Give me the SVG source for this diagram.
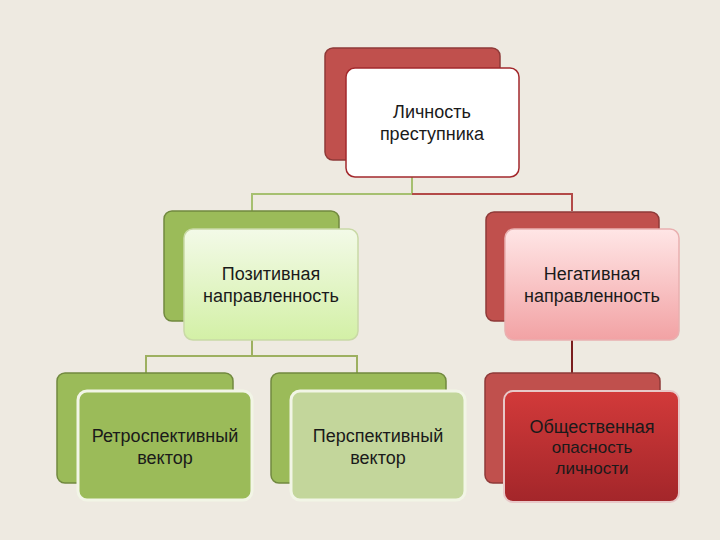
<svg xmlns="http://www.w3.org/2000/svg" width="720" height="540" viewBox="0 0 720 540">
<defs>
<linearGradient id="gPos" x1="0" y1="0" x2="0" y2="1"><stop offset="0" stop-color="#F3FAE8"/><stop offset="1" stop-color="#D3F0A6"/></linearGradient>
<linearGradient id="gNeg" x1="0" y1="0" x2="0" y2="1"><stop offset="0" stop-color="#FFE6E6"/><stop offset="1" stop-color="#F2A2A4"/></linearGradient>
<linearGradient id="gDanger" x1="0" y1="0" x2="0" y2="1"><stop offset="0" stop-color="#D23A3A"/><stop offset="1" stop-color="#A3262A"/></linearGradient>
<linearGradient id="gGreenBack" x1="0" y1="0" x2="0" y2="1"><stop offset="0" stop-color="#9EBB5A"/><stop offset="1" stop-color="#8AA84E"/></linearGradient>
<style>
.bg{fill:#EEEAE1}
.backR{fill:#C0504D;stroke:#8E3A38;stroke-width:1.5}
.backG{fill:#9BBB59;stroke:#71893F;stroke-width:1.5}
.t{font-family:"Liberation Sans","DejaVu Sans",sans-serif;font-size:18px;fill:#1A1A1A;text-anchor:middle}
.c{fill:none;stroke-width:2}
</style>
</defs>
<rect class="bg" x="0" y="0" width="720" height="540"/>

<g id="connectors">
<path class="c" stroke="#A6C070" d="M412,177 V194 H252 V211"/>
<path class="c" stroke="#B34A48" d="M412,194 H572 V211"/>
<path class="c" stroke="#9DB060" d="M252,340 V356 M146,373 V356 H357 V373"/>
<path class="c" stroke="#7A1E1E" d="M572,340 V373"/>
</g>

<g id="n-lichnost">
<rect class="backR" x="325" y="48" width="175" height="112" rx="8"/>
<rect x="346" y="68" width="173" height="109" rx="9" fill="#FFFFFF" stroke="#A3282C" stroke-width="1.5"/>
<text class="t" x="432" y="118">Личность</text>
<text class="t" x="432" y="140">преступника</text>
</g>

<g id="n-pos">
<rect class="backG" x="164" y="211" width="175" height="110" rx="8"/>
<rect x="184" y="229" width="174" height="111" rx="9" fill="url(#gPos)" stroke="#C9D9A6" stroke-width="1.5"/>
<text class="t" x="271" y="280">Позитивная</text>
<text class="t" x="271" y="302">направленность</text>
</g>

<g id="n-neg">
<rect class="backR" x="486" y="212" width="173" height="109" rx="8"/>
<rect x="505" y="229" width="174" height="111" rx="9" fill="url(#gNeg)" stroke="#E9B0B0" stroke-width="1.5"/>
<text class="t" x="592" y="280">Негативная</text>
<text class="t" x="592" y="302">направленность</text>
</g>

<g id="n-retro">
<rect class="backG" x="57" y="373" width="176" height="110" rx="8" fill="url(#gGreenBack)"/>
<rect x="78" y="391" width="174" height="109" rx="9" fill="#9BBB59" stroke="#F2F5E6" stroke-width="3"/>
<text class="t" x="165" y="442">Ретроспективный</text>
<text class="t" x="165" y="464">вектор</text>
</g>

<g id="n-persp">
<rect class="backG" x="271" y="373" width="175" height="110" rx="8" fill="url(#gGreenBack)"/>
<rect x="291" y="391" width="174" height="109" rx="9" fill="#C3D69B" stroke="#F2F5E6" stroke-width="3"/>
<text class="t" x="378" y="442">Перспективный</text>
<text class="t" x="378" y="464">вектор</text>
</g>

<g id="n-danger">
<rect class="backR" x="485" y="373" width="175" height="110" rx="8"/>
<rect x="504" y="391" width="175" height="111" rx="9" fill="url(#gDanger)" stroke="#E8C8C8" stroke-width="2"/>
<text class="t" x="592" y="433">Общественная</text>
<text class="t" x="592" y="453" style="font-size:17px">опасность</text>
<text class="t" x="592" y="474" style="font-size:17px">личности</text>
</g>
</svg>
